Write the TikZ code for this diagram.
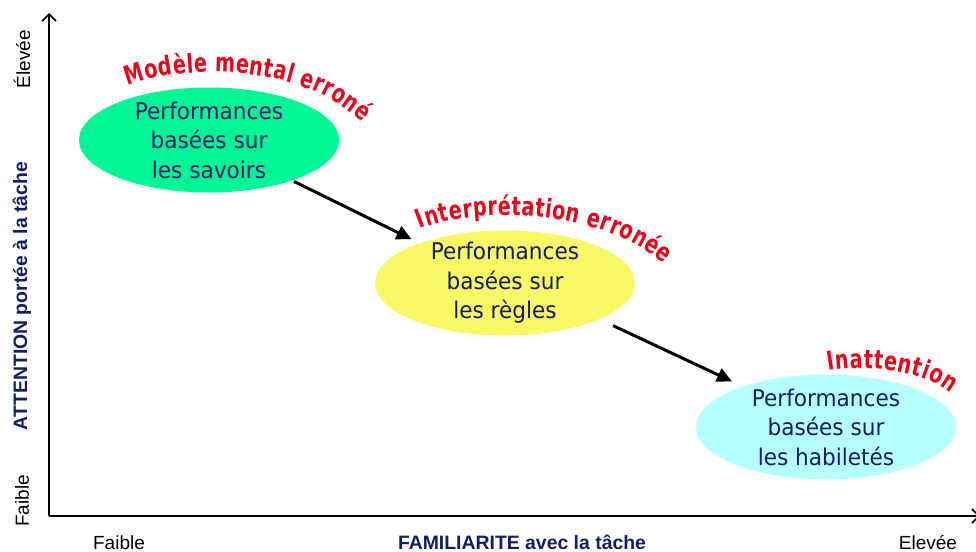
\documentclass[tikz,border=0pt]{standalone}
\usepackage{fontspec}
\setmainfont{DejaVu Sans}[FakeStretch=0.94]
\newfontfamily\axisfont{Liberation Sans}
\newfontfamily\redfont{DejaVu Sans}[FakeStretch=0.74]
\usetikzlibrary{shapes.geometric,arrows.meta,decorations.text}
\definecolor{egreen}{RGB}{0,245,150}
\definecolor{eyellow}{RGB}{248,248,100}
\definecolor{ecyan}{RGB}{182,255,255}
\definecolor{navy}{RGB}{20,30,100}
\definecolor{wred}{RGB}{235,0,25}
\begin{document}
\begin{tikzpicture}[x=1pt,y=-1pt,
  ell/.style={ellipse, draw=none, minimum width=260pt, minimum height=105pt, inner sep=0pt},
  etext/.style={align=center, text=navy, font=\fontsize{23}{29.5}\selectfont, inner sep=0pt},
  axlab/.style={font=\axisfont\fontsize{19}{19}\selectfont, inner sep=0pt},
  axtitle/.style={font=\axisfont\bfseries\fontsize{19.4}{19.4}\selectfont, text=navy, inner sep=0pt},
  flow/.style={line width=3pt, -{Triangle[length=15pt,width=14pt]}},
  axisline/.style={line width=1.6pt, -{Straight Barb[length=7pt,width=14pt]}},
  redarc/.style={decorate, decoration={text along path, text align={fit to path}, text={#1}}}
]
\useasboundingbox (0,0) rectangle (976,551);
\clip (0,0) rectangle (976,551);

% axes
\coordinate (o) at (49,516);
\coordinate (ytop) at (49,13);
\coordinate (xend) at (980,516);
\draw[axisline] (o) -- (ytop);
\draw[axisline] (o) -- (xend);

% axis labels
\node[axlab, rotate=90] (yhi) at (22,59) {Élevée};
\node[axtitle, rotate=90] (ytitle) at (22,296) {ATTENTION portée à la tâche};
\node[axlab, rotate=90] (ylo) at (22,501) {Faible};
\node[axlab, anchor=base] (xlo) at (119,549) {Faible};
\node[axtitle, anchor=base] (xtitle) at (522,549) {FAMILIARITE avec la tâche};
\node[axlab, anchor=base] (xhi) at (928,549) {Elevée};

% ellipses
\node[ell, fill=egreen] (g) at (209,140) {};
\node[ell, fill=eyellow] (y) at (505,283) {};
\node[ell, fill=ecyan] (c) at (826,427) {};
\node[etext] (gt) at (g.center) {Performances\\basées sur\\les savoirs};
\node[etext] (yt) at (y.center) {Performances\\basées sur\\les règles};
\node[etext] (ct) at (c.center) {Performances\\basées sur\\les habiletés};

% connectors
\draw[flow, shorten <=2pt, shorten >=9pt] (g.-26) -- (y.155);
\draw[flow, shorten <=15pt, shorten >=12pt] (y.-21) -- (c.154);

% curved red labels
\path[redarc={|\redfont\bfseries\color{wred}\fontsize{26}{26}\selectfont|Modèle mental erroné}]
  (128,86) .. controls (190,62) and (305,66) .. (362,122);
\path[redarc={|\redfont\bfseries\color{wred}\fontsize{26}{26}\selectfont|Interprétation erronée}]
  (420,229) .. controls (470,208) and (595,205) .. (664,264);
\path[redarc={|\redfont\bfseries\color{wred}\fontsize{26}{26}\selectfont|Inattention}]
  (828,371) .. controls (865,364) and (922,370) .. (951,393);
\end{tikzpicture}
\end{document}
